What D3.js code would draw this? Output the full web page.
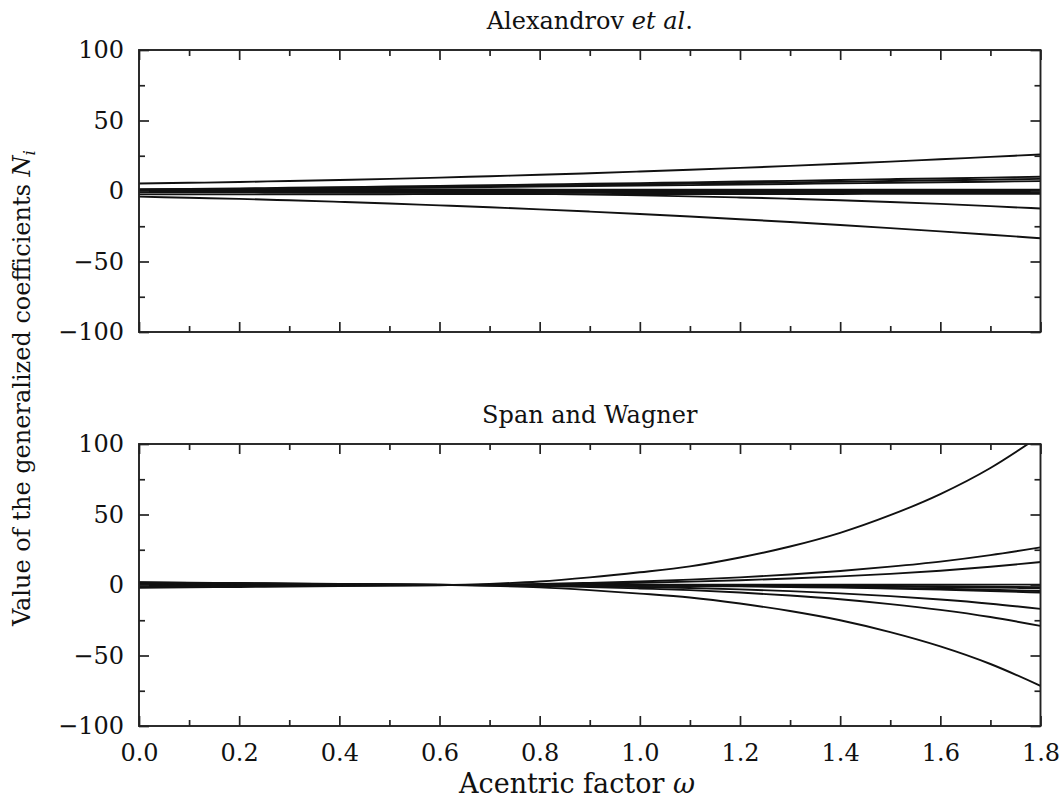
<!DOCTYPE html>
<html>
<head>
<meta charset="utf-8">
<script src="https://cdn.jsdelivr.net/npm/d3@7"></script>
<style>
  body { margin: 0; background: #fff; }
  svg { display: block; }
  text { font-family: "DejaVu Serif", serif; fill: #111; }
</style>
</head>
<body>
<svg id="chart" width="1061" height="800"></svg>
<script>
// Acentric factor grid shared by every curve
const omega = [0, 0.1, 0.2, 0.3, 0.4, 0.5, 0.6, 0.7, 0.8, 0.9, 1.0, 1.1, 1.2, 1.3, 1.4, 1.5, 1.6, 1.7, 1.8];

const xMajorTicks = [0, 0.2, 0.4, 0.6, 0.8, 1.0, 1.2, 1.4, 1.6, 1.8];
const xMinorTicks = [0.1, 0.3, 0.5, 0.7, 0.9, 1.1, 1.3, 1.5, 1.7];
const yMajorTicks = [-100, -50, 0, 50, 100];
const yMinorTicks = [-75, -25, 25, 75];

// Generalized coefficients, Alexandrov et al.
const alexN1  = [5.3, 5.8, 6.4, 7.1, 7.8, 8.6, 9.5, 10.5, 11.5, 12.6, 13.8, 15.1, 16.4, 17.8, 19.3, 20.8, 22.5, 24.2, 25.9];
const alexN2  = [1.0, 1.4, 1.8, 2.3, 2.7, 3.2, 3.6, 4.1, 4.6, 5.1, 5.6, 6.1, 6.7, 7.2, 7.8, 8.4, 8.9, 9.5, 10.1];
const alexN3  = [0.8, 1.2, 1.5, 1.9, 2.3, 2.7, 3.1, 3.5, 3.9, 4.3, 4.8, 5.2, 5.7, 6.1, 6.6, 7.1, 7.6, 8.1, 8.6];
const alexN4  = [0.5, 0.8, 1.1, 1.4, 1.8, 2.1, 2.4, 2.8, 3.1, 3.5, 3.9, 4.2, 4.6, 5.0, 5.4, 5.8, 6.2, 6.6, 7.0];
const alexN5  = [1.2, 1.2, 1.2, 1.2, 1.1, 1.1, 1.1, 1.1, 1.0, 1.0, 1.0, 1.0, 1.0, 0.9, 0.9, 0.9, 0.9, 0.9, 0.9];
const alexN6  = [0.4, 0.4, 0.4, 0.4, 0.4, 0.4, 0.4, 0.4, 0.4, 0.4, 0.3, 0.3, 0.3, 0.3, 0.3, 0.3, 0.3, 0.3, 0.3];
const alexN7  = [-0.3, -0.3, -0.3, -0.3, -0.3, -0.3, -0.3, -0.3, -0.3, -0.3, -0.3, -0.3, -0.3, -0.3, -0.3, -0.3, -0.3, -0.3, -0.3];
const alexN8  = [-1.0, -1.0, -1.0, -1.0, -1.0, -1.0, -1.0, -1.0, -1.0, -1.0, -0.9, -0.9, -0.9, -0.9, -0.9, -0.9, -0.9, -0.9, -0.9];
const alexN9  = [-2.4, -2.4, -2.4, -2.3, -2.3, -2.3, -2.2, -2.2, -2.2, -2.2, -2.1, -2.1, -2.1, -2.1, -2.1, -2.0, -2.0, -2.0, -2.0];
const alexN10 = [-0.5, -0.58, -0.67, -0.79, -0.94, -1.13, -1.37, -1.68, -2.06, -2.53, -3.1, -3.78, -4.57, -5.5, -6.56, -7.78, -9.15, -10.7, -12.44];
const alexN11 = [-4.0, -4.8, -5.6, -6.6, -7.7, -8.9, -10.2, -11.5, -13.0, -14.6, -16.3, -18.1, -20.0, -22.0, -24.1, -26.3, -28.6, -31.0, -33.5];

// Generalized coefficients, Span and Wagner
const swN1  = [-2.0, -1.69, -1.38, -1.08, -0.77, -0.46, -0.15, 0.8, 2.5, 5.4, 9.0, 13.2, 19.5, 27.3, 37.0, 49.5, 64.5, 83.0, 106.0];
const swN2  = [-1.0, -0.85, -0.69, -0.54, -0.38, -0.23, -0.08, 0.2, 0.7, 1.5, 2.5, 3.8, 5.4, 7.4, 9.9, 13.0, 16.6, 21.2, 26.7];
const swN3  = [-0.6, -0.51, -0.42, -0.32, -0.23, -0.14, -0.05, 0.12, 0.4, 0.9, 1.55, 2.4, 3.4, 4.6, 6.1, 7.9, 10.1, 12.9, 16.3];
const swN4  = [0.2, 0.17, 0.14, 0.11, 0.08, 0.05, 0.02, 0.05, 0.1, 0.1, 0.15, 0.15, 0.2, 0.2, 0.25, 0.25, 0.3, 0.3, 0.3];
const swN5  = [0.5, 0.42, 0.35, 0.27, 0.19, 0.12, 0.04, -0.01, -0.04, -0.08, -0.13, -0.18, -0.27, -0.38, -0.52, -0.69, -0.9, -1.16, -1.48];
const swN6  = [0.8, 0.68, 0.55, 0.43, 0.31, 0.18, 0.06, -0.02, -0.05, -0.12, -0.2, -0.29, -0.42, -0.59, -0.8, -1.07, -1.4, -1.8, -2.3];
const swN7  = [1.1, 0.93, 0.76, 0.59, 0.42, 0.25, 0.08, -0.03, -0.1, -0.22, -0.37, -0.54, -0.79, -1.11, -1.5, -2.01, -2.62, -3.37, -4.3];
const swN8  = [1.3, 1.1, 0.9, 0.7, 0.5, 0.3, 0.1, -0.04, -0.13, -0.28, -0.46, -0.67, -0.99, -1.39, -1.89, -2.52, -3.29, -4.23, -5.4];
const swN9  = [1.5, 1.27, 1.04, 0.81, 0.58, 0.35, 0.12, -0.13, -0.4, -0.86, -1.44, -2.11, -3.12, -4.37, -5.92, -7.92, -10.32, -13.28, -16.96];
const swN10 = [1.8, 1.52, 1.25, 0.97, 0.69, 0.42, 0.14, -0.22, -0.69, -1.48, -2.47, -3.62, -5.34, -7.48, -10.14, -13.56, -17.67, -22.74, -29.04];
const swN11 = [2.0, 1.69, 1.38, 1.08, 0.77, 0.46, 0.15, -0.54, -1.69, -3.65, -6.08, -8.91, -13.16, -18.43, -24.98, -33.41, -43.54, -56.03, -71.55];

const alexSeries = [alexN1, alexN2, alexN3, alexN4, alexN5, alexN6, alexN7, alexN8, alexN9, alexN10, alexN11];
const swSeries = [swN1, swN2, swN3, swN4, swN5, swN6, swN7, swN8, swN9, swN10, swN11];

const svg = d3.select("#chart");
const left = 139, right = 1040.5, plotH = 282;
const axisColor = "#222";
const fontSize = 24;

const x = d3.scaleLinear().domain([0, 1.8]).range([left, right]);

function styleAxis(g) {
  g.select(".domain").remove();
  g.selectAll(".tick line").attr("stroke", axisColor).attr("stroke-width", 1.7);
  g.selectAll(".tick text").attr("font-size", fontSize).attr("fill", "#111")
    .style("font-family", "'DejaVu Serif', serif");
}

function drawPanel(top, id, titleParts, series, showXLabels) {
  const y = d3.scaleLinear().domain([-100, 100]).range([top + plotH, top]);
  const g = svg.append("g");

  g.append("clipPath").attr("id", id)
    .append("rect").attr("x", left).attr("y", top)
    .attr("width", right - left).attr("height", plotH);

  const line = d3.line()
    .x((d, i) => x(omega[i]))
    .y(d => y(d))
    .curve(d3.curveMonotoneX);

  g.append("g").attr("clip-path", `url(#${id})`)
    .selectAll("path").data(series).join("path")
    .attr("d", line)
    .attr("fill", "none")
    .attr("stroke", "#111")
    .attr("stroke-width", 1.9);

  // inward ticks on all four sides
  const bottomMajor = d3.axisBottom(x).tickValues(xMajorTicks).tickSize(-10).tickPadding(18)
    .tickFormat(showXLabels ? d3.format(".1f") : "");
  g.append("g").attr("transform", `translate(0,${top + plotH})`).call(bottomMajor).call(styleAxis);
  g.append("g").attr("transform", `translate(0,${top + plotH})`)
    .call(d3.axisBottom(x).tickValues(xMinorTicks).tickSize(-6).tickFormat("")).call(styleAxis);
  g.append("g").attr("transform", `translate(0,${top})`)
    .call(d3.axisTop(x).tickValues(xMajorTicks).tickSize(-10).tickFormat("")).call(styleAxis);
  g.append("g").attr("transform", `translate(0,${top})`)
    .call(d3.axisTop(x).tickValues(xMinorTicks).tickSize(-6).tickFormat("")).call(styleAxis);

  g.append("g").attr("transform", `translate(${left},0)`)
    .call(d3.axisLeft(y).tickValues(yMajorTicks).tickSize(-10).tickPadding(15).tickFormat(d3.format("d")))
    .call(styleAxis);
  g.append("g").attr("transform", `translate(${left},0)`)
    .call(d3.axisLeft(y).tickValues(yMinorTicks).tickSize(-6).tickFormat("")).call(styleAxis);
  g.append("g").attr("transform", `translate(${right},0)`)
    .call(d3.axisRight(y).tickValues(yMajorTicks).tickSize(-10).tickFormat("")).call(styleAxis);
  g.append("g").attr("transform", `translate(${right},0)`)
    .call(d3.axisRight(y).tickValues(yMinorTicks).tickSize(-6).tickFormat("")).call(styleAxis);

  g.append("rect").attr("x", left).attr("y", top)
    .attr("width", right - left).attr("height", plotH)
    .attr("fill", "none").attr("stroke", axisColor).attr("stroke-width", 1.9);

  const t = g.append("text").attr("x", (left + right) / 2).attr("y", top - 21)
    .attr("text-anchor", "middle").attr("font-size", fontSize);
  titleParts.forEach(p => t.append("tspan").text(p.text).attr("font-style", p.italic ? "italic" : null));
}

drawPanel(50, "clip-top", [{ text: "Alexandrov " }, { text: "et al", italic: true }, { text: "." }], alexSeries, false);
drawPanel(444, "clip-bottom", [{ text: "Span and Wagner" }], swSeries, true);

// x-axis title
const xl = svg.append("text").attr("x", 577).attr("y", 793)
  .attr("text-anchor", "middle").attr("font-size", 27);
xl.append("tspan").text("Acentric factor ");
xl.append("tspan").text("ω").attr("font-style", "italic");

// shared y-axis title
const yl = svg.append("text").attr("transform", "translate(30,388) rotate(-90)")
  .attr("text-anchor", "middle").attr("font-size", fontSize);
yl.append("tspan").text("Value of the generalized coefficients ");
yl.append("tspan").text("N").attr("font-style", "italic");
yl.append("tspan").text("i").attr("font-style", "italic").attr("font-size", 17).attr("dy", 5);
</script>
</body>
</html>
